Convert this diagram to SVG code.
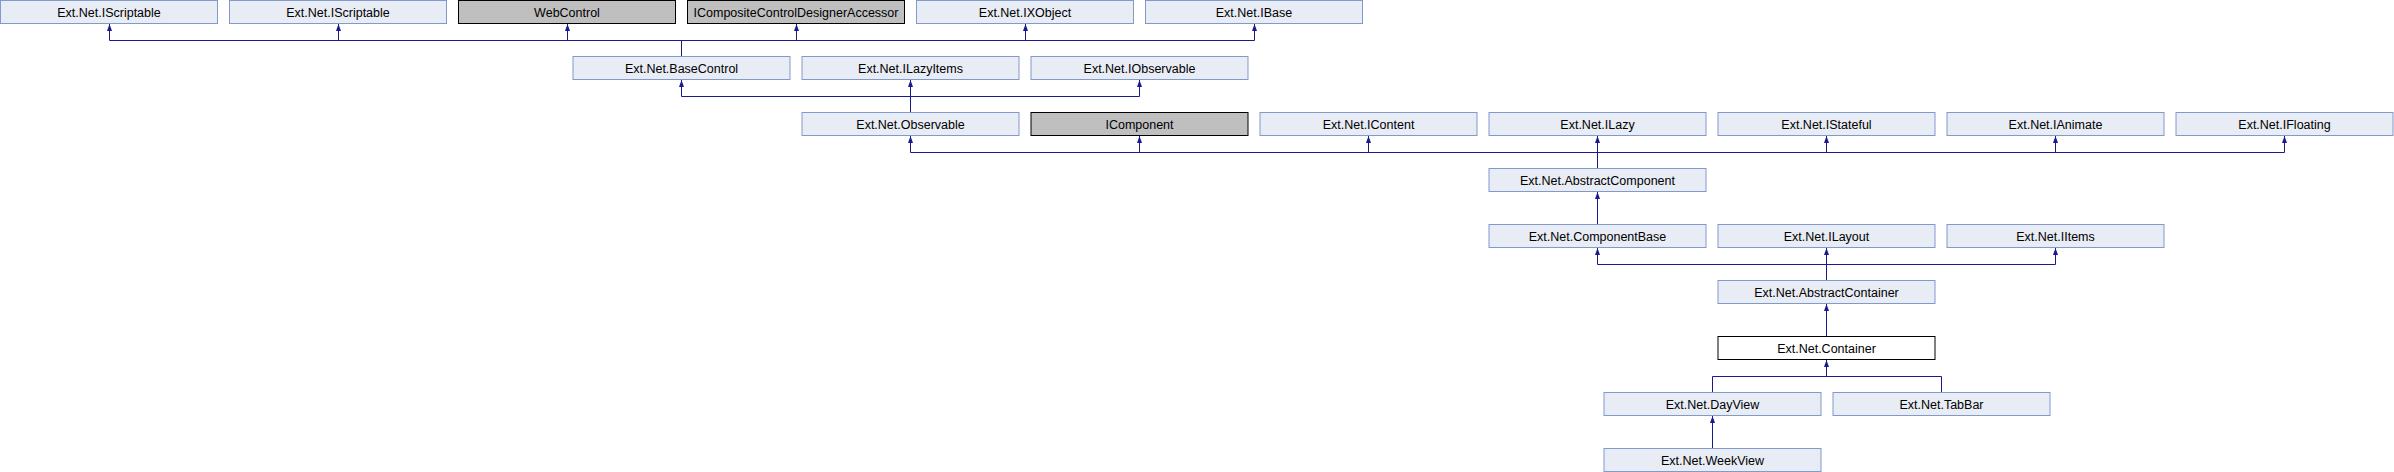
<svg xmlns="http://www.w3.org/2000/svg" width="2394" height="472" viewBox="0 0 2394 472">
<style>
.n rect{fill:#E8ECF5;stroke:#8299CC;stroke-width:1}
.g rect{fill:#BFBFBF;stroke:#000;stroke-width:1}
.c rect{fill:#FFFFFF;stroke:#000;stroke-width:1}
text{font-family:"Liberation Sans",Arial,sans-serif;font-size:12.5px;fill:#000;text-anchor:middle}
#edges path{fill:none;stroke:#1A1A8C;stroke-width:1}
</style>
<defs>
<marker id="ah" markerUnits="userSpaceOnUse" viewBox="0 0 7 6" refX="7" refY="3" markerWidth="7" markerHeight="6" orient="auto">
<path d="M0,0.5 L7,3 L0,5.5 z" fill="#1A1A8C"/>
</marker>
</defs>
<g id="edges">
<path d="M109.5,40.5 H1254.5 M681.5,56 V40.5"/>
<path d="M109.5,40.5 V24" marker-end="url(#ah)"/>
<path d="M338.5,40.5 V24" marker-end="url(#ah)"/>
<path d="M567.5,40.5 V24" marker-end="url(#ah)"/>
<path d="M796.5,40.5 V24" marker-end="url(#ah)"/>
<path d="M1025.5,40.5 V24" marker-end="url(#ah)"/>
<path d="M1254.5,40.5 V24" marker-end="url(#ah)"/>
<path d="M681.5,96.5 H1139.5 M910.5,112 V96.5"/>
<path d="M681.5,96.5 V80" marker-end="url(#ah)"/>
<path d="M910.5,96.5 V80" marker-end="url(#ah)"/>
<path d="M1139.5,96.5 V80" marker-end="url(#ah)"/>
<path d="M910.5,152.5 H2284.5 M1597.5,168 V152.5"/>
<path d="M910.5,152.5 V136" marker-end="url(#ah)"/>
<path d="M1139.5,152.5 V136" marker-end="url(#ah)"/>
<path d="M1368.5,152.5 V136" marker-end="url(#ah)"/>
<path d="M1597.5,152.5 V136" marker-end="url(#ah)"/>
<path d="M1826.5,152.5 V136" marker-end="url(#ah)"/>
<path d="M2055.5,152.5 V136" marker-end="url(#ah)"/>
<path d="M2284.5,152.5 V136" marker-end="url(#ah)"/>
<path d="M1597.5,224 V192" marker-end="url(#ah)"/>
<path d="M1597.5,264.5 H2055.5 M1826.5,280 V264.5"/>
<path d="M1597.5,264.5 V248" marker-end="url(#ah)"/>
<path d="M1826.5,264.5 V248" marker-end="url(#ah)"/>
<path d="M2055.5,264.5 V248" marker-end="url(#ah)"/>
<path d="M1826.5,336 V304" marker-end="url(#ah)"/>
<path d="M1712.5,392 V376.5 H1941.5 V392"/>
<path d="M1826.5,376.5 V360" marker-end="url(#ah)"/>
<path d="M1712.5,448 V416" marker-end="url(#ah)"/>
</g>
<g id="n_IScriptable1" class="n"><rect x="0.5" y="0.5" width="217" height="23"/><text x="109" y="16.5">Ext.Net.IScriptable</text></g>
<g id="n_IScriptable2" class="n"><rect x="229.5" y="0.5" width="217" height="23"/><text x="338" y="16.5">Ext.Net.IScriptable</text></g>
<g id="n_WebControl" class="g"><rect x="458.5" y="0.5" width="217" height="23"/><text x="567" y="16.5">WebControl</text></g>
<g id="n_ICompositeControlDesignerAccessor" class="g"><rect x="687.5" y="0.5" width="217" height="23"/><text x="796" y="16.5">ICompositeControlDesignerAccessor</text></g>
<g id="n_IXObject" class="n"><rect x="916.5" y="0.5" width="217" height="23"/><text x="1025" y="16.5">Ext.Net.IXObject</text></g>
<g id="n_IBase" class="n"><rect x="1145.5" y="0.5" width="217" height="23"/><text x="1254" y="16.5">Ext.Net.IBase</text></g>
<g id="n_BaseControl" class="n"><rect x="573" y="56.5" width="217" height="23"/><text x="681.5" y="72.5">Ext.Net.BaseControl</text></g>
<g id="n_ILazyItems" class="n"><rect x="802" y="56.5" width="217" height="23"/><text x="910.5" y="72.5">Ext.Net.ILazyItems</text></g>
<g id="n_IObservable" class="n"><rect x="1031" y="56.5" width="217" height="23"/><text x="1139.5" y="72.5">Ext.Net.IObservable</text></g>
<g id="n_Observable" class="n"><rect x="802" y="112.5" width="217" height="23"/><text x="910.5" y="128.5">Ext.Net.Observable</text></g>
<g id="n_IComponent" class="g"><rect x="1031" y="112.5" width="217" height="23"/><text x="1139.5" y="128.5">IComponent</text></g>
<g id="n_IContent" class="n"><rect x="1260" y="112.5" width="217" height="23"/><text x="1368.5" y="128.5">Ext.Net.IContent</text></g>
<g id="n_ILazy" class="n"><rect x="1489" y="112.5" width="217" height="23"/><text x="1597.5" y="128.5">Ext.Net.ILazy</text></g>
<g id="n_IStateful" class="n"><rect x="1718" y="112.5" width="217" height="23"/><text x="1826.5" y="128.5">Ext.Net.IStateful</text></g>
<g id="n_IAnimate" class="n"><rect x="1947" y="112.5" width="217" height="23"/><text x="2055.5" y="128.5">Ext.Net.IAnimate</text></g>
<g id="n_IFloating" class="n"><rect x="2176" y="112.5" width="217" height="23"/><text x="2284.5" y="128.5">Ext.Net.IFloating</text></g>
<g id="n_AbstractComponent" class="n"><rect x="1489" y="168.5" width="217" height="23"/><text x="1597.5" y="184.5">Ext.Net.AbstractComponent</text></g>
<g id="n_ComponentBase" class="n"><rect x="1489" y="224.5" width="217" height="23"/><text x="1597.5" y="240.5">Ext.Net.ComponentBase</text></g>
<g id="n_ILayout" class="n"><rect x="1718" y="224.5" width="217" height="23"/><text x="1826.5" y="240.5">Ext.Net.ILayout</text></g>
<g id="n_IItems" class="n"><rect x="1947" y="224.5" width="217" height="23"/><text x="2055.5" y="240.5">Ext.Net.IItems</text></g>
<g id="n_AbstractContainer" class="n"><rect x="1718" y="280.5" width="217" height="23"/><text x="1826.5" y="296.5">Ext.Net.AbstractContainer</text></g>
<g id="n_Container" class="c"><rect x="1718" y="336.5" width="217" height="23"/><text x="1826.5" y="352.5">Ext.Net.Container</text></g>
<g id="n_DayView" class="n"><rect x="1604" y="392.5" width="217" height="23"/><text x="1712.5" y="408.5">Ext.Net.DayView</text></g>
<g id="n_TabBar" class="n"><rect x="1833" y="392.5" width="217" height="23"/><text x="1941.5" y="408.5">Ext.Net.TabBar</text></g>
<g id="n_WeekView" class="n"><rect x="1604" y="448.5" width="217" height="23"/><text x="1712.5" y="464.5">Ext.Net.WeekView</text></g>
</svg>
